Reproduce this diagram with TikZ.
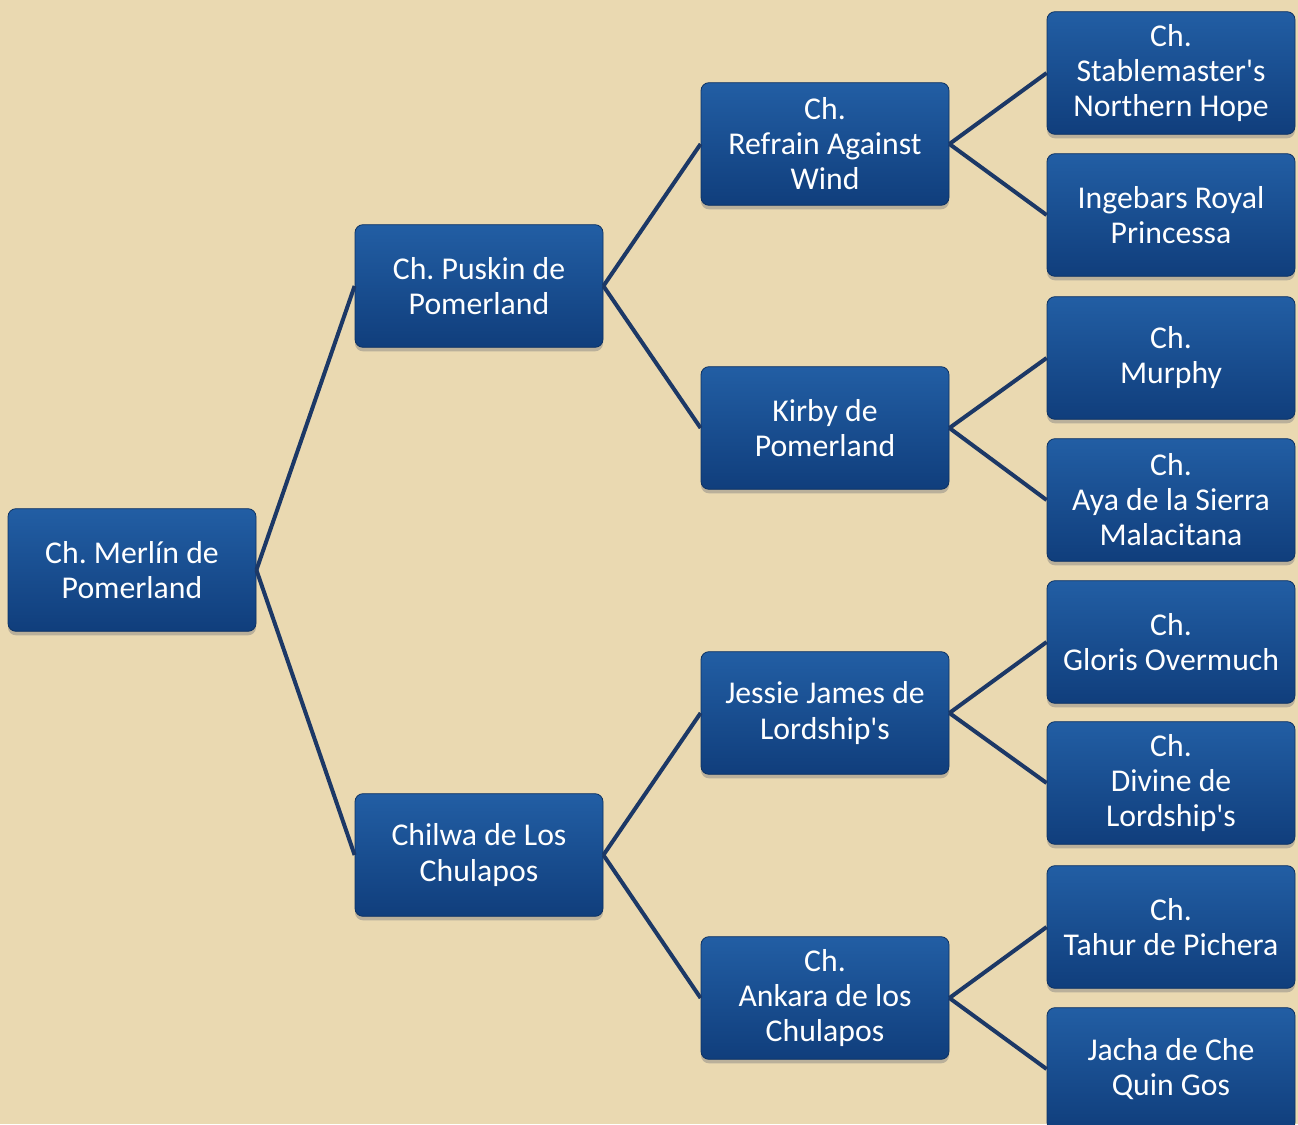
\documentclass[tikz,border=0pt]{standalone}
\usepackage{fontspec}
\setmainfont{Carlito}
\usetikzlibrary{shadows}

\definecolor{parchment}{RGB}{234,217,177}
\definecolor{boxtop}{RGB}{34,94,164}
\definecolor{boxbot}{RGB}{16,62,124}
\definecolor{linkblue}{RGB}{28,56,102}

\newcommand{\apos}{\textquotesingle}

\begin{document}
\frenchspacing
\begin{tikzpicture}[x=0.75pt,y=-0.75pt,
    dog/.style={rectangle,rounded corners=6pt,draw=boxbot!80!black,line width=0.6pt,
        top color=boxtop,bottom color=boxbot,
        drop shadow={shadow xshift=0pt,shadow yshift=-3pt,opacity=0.45},
        minimum width=186pt,minimum height=92pt,inner sep=2pt,
        text=white,align=center,font=\fontsize{23.8}{26.3}\selectfont},
    link/.style={linkblue,line width=3pt}]

    % fondo
    \clip (0,0) rectangle (1298,1124);
    \fill[parchment] (0,0) rectangle (1298,1124);

    % generación 0
    \node[dog] (merlin) at (132,570) {Ch. Merlín de\\Pomerland};

    % generación 1
    \node[dog] (puskin) at (479,286) {Ch. Puskin de\\Pomerland};
    \node[dog] (chilwa) at (479,855) {Chilwa de Los\\Chulapos};

    % generación 2
    \node[dog] (refrain) at (825,144) {Ch.\\Refrain Against\\Wind};
    \node[dog] (kirby)   at (825,428) {Kirby de\\Pomerland};
    \node[dog] (jessie)  at (825,713) {Jessie James de\\Lordship\apos s};
    \node[dog] (ankara)  at (825,998) {Ch.\\Ankara de los\\Chulapos};

    % generación 3
    \node[dog] (stable)   at (1171,73)   {Ch.\\Stablemaster\apos s\\Northern Hope};
    \node[dog] (ingebars) at (1171,215)  {Ingebars Royal\\Princessa};
    \node[dog] (murphy)   at (1171,358)  {Ch.\\Murphy};
    \node[dog] (aya)      at (1171,500)  {Ch.\\Aya de la Sierra\\Malacitana};
    \node[dog] (gloris)   at (1171,642)  {Ch.\\Gloris Overmuch};
    \node[dog] (divine)   at (1171,783)  {Ch.\\Divine de\\Lordship\apos s};
    \node[dog] (tahur)    at (1171,927)  {Ch.\\Tahur de Pichera};
    \node[dog] (jacha)    at (1171,1069) {Jacha de Che\\Quin Gos};

    % líneas padre - hijo
    \foreach \p/\c in {merlin/puskin,merlin/chilwa,
                       puskin/refrain,puskin/kirby,chilwa/jessie,chilwa/ankara,
                       refrain/stable,refrain/ingebars,kirby/murphy,kirby/aya,
                       jessie/gloris,jessie/divine,ankara/tahur,ankara/jacha} {
            \draw[link] (\p.east) -- (\c.west);
        }

\end{tikzpicture}
\end{document}
